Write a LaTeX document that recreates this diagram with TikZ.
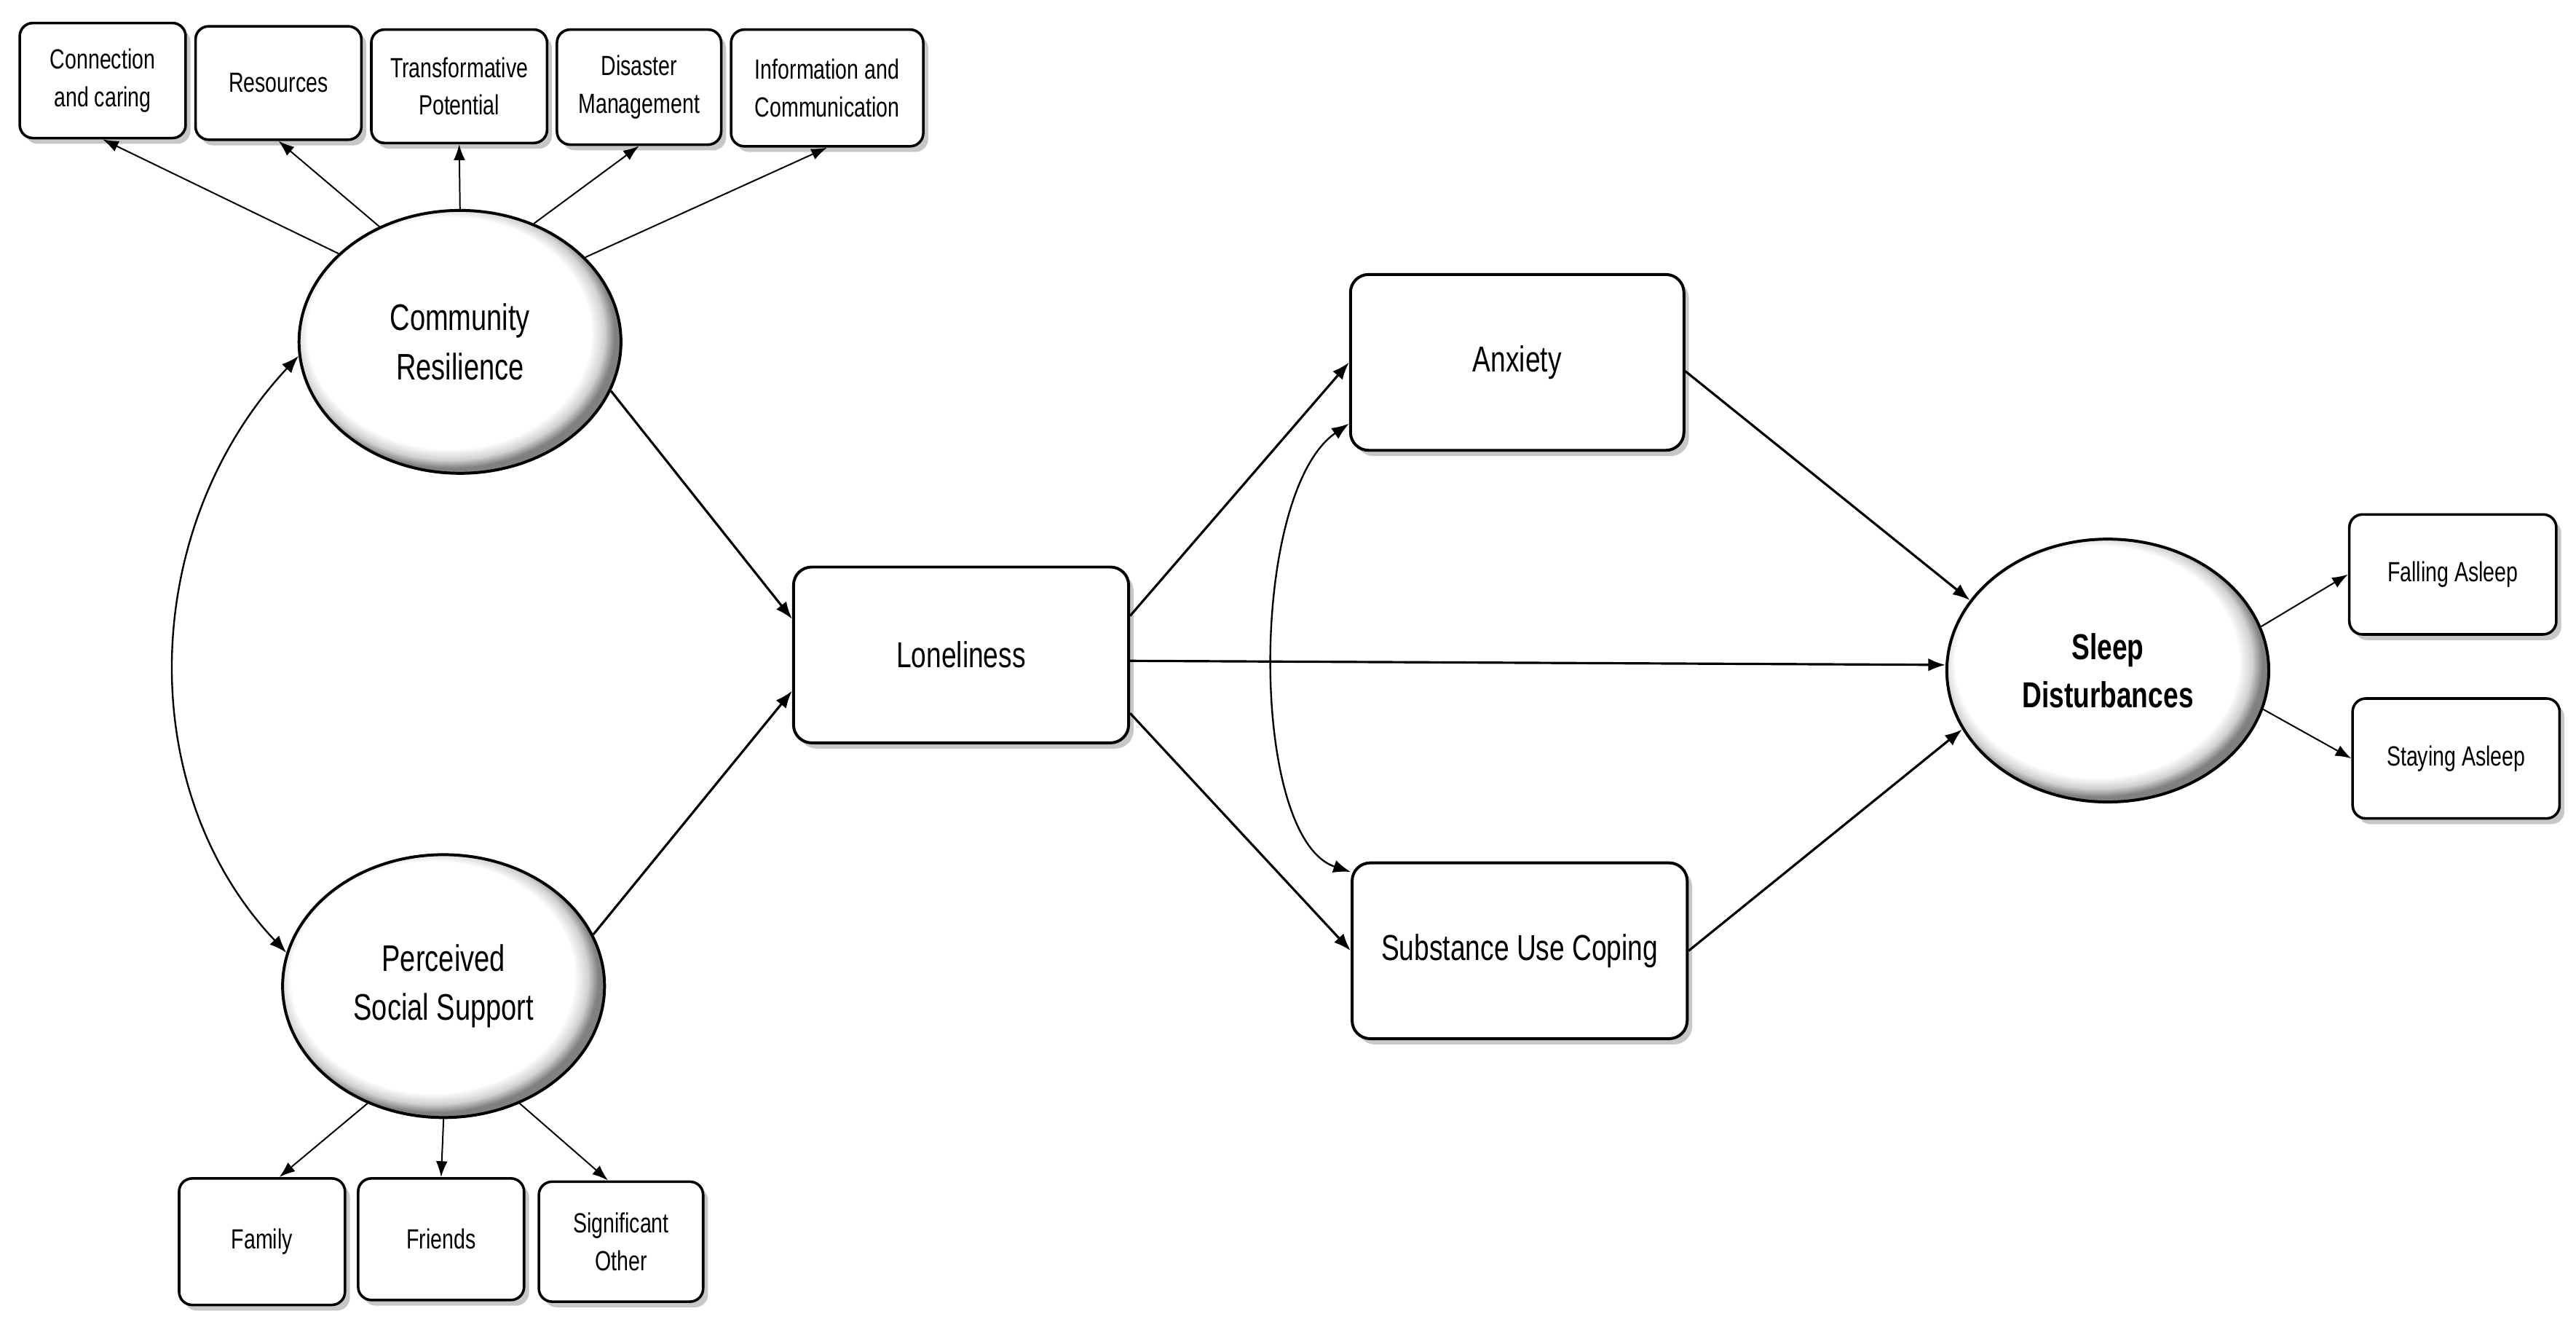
\documentclass[tikz,border=0pt]{standalone}
\usepackage{fontspec}
\setmainfont{Liberation Sans}[FakeStretch=0.75]
\usetikzlibrary{arrows.meta,shapes.geometric,shadows}
\pgfdeclareradialshading{rimshade}{\pgfpoint{-3bp}{3bp}}{color(0bp)=(white); color(22bp)=(white); color(24bp)=(black!18); color(25.5bp)=(black!50); color(50bp)=(black!50)}
\begin{document}
\begin{tikzpicture}[x=0.02cm,y=-0.02cm,
  boxshadow/.style={drop shadow={shadow xshift=0.06cm, shadow yshift=-0.07cm, fill=black, opacity=0.22}},
  smallbox/.style={draw, line width=0.9pt, rounded corners=0.16cm, fill=white, boxshadow, align=center, inner sep=1pt,
    font=\fontsize{9.6}{13}\selectfont},
  mainbox/.style={draw, line width=1pt, rounded corners=0.22cm, fill=white, boxshadow, align=center,
    minimum width=4.08cm, minimum height=2.14cm, font=\fontsize{12.5}{16}\selectfont},
  latent/.style={ellipse, draw, line width=1pt, shade, shading=rimshade, inner sep=0pt, align=center,
    minimum width=3.92cm, minimum height=3.2cm, font=\fontsize{12.8}{17}\selectfont},
  arr/.style={-{Latex[length=6pt,width=4.5pt]}, line width=0.8pt},
  thinarr/.style={-{Latex[length=5.5pt,width=4pt]}, line width=0.5pt},
  dblarr/.style={{Latex[length=6pt,width=4.5pt]}-{Latex[length=6pt,width=4.5pt]}, line width=0.6pt}
]
\useasboundingbox (0,0) rectangle (1568,809);

% top indicator boxes
\node[smallbox, minimum width=2.02cm, minimum height=1.40cm] (c1) at (62.5,49) {Connection\\and caring};
\node[smallbox, minimum width=2.02cm, minimum height=1.38cm] (c2) at (169.5,50.5) {Resources};
\node[smallbox, minimum width=2.14cm, minimum height=1.38cm] (c3) at (279.5,52.5) {Transformative\\Potential};
\node[smallbox, minimum width=2.00cm, minimum height=1.40cm] (c4) at (389,53) {Disaster\\Management};
\node[smallbox, minimum width=2.34cm, minimum height=1.42cm] (c5) at (503.5,53.5) {Information and\\Communication};

% latent variables
\node[latent] (CR) at (280,208) {Community\\Resilience};
\node[latent] (PSS) at (270,600) {Perceived\\Social Support};
\node[latent, font=\fontsize{12.5}{16.5}\selectfont\bfseries] (SD) at (1283,408) {Sleep\\Disturbances};

% main boxes
\node[mainbox] (L) at (585,398.5) {Loneliness};
\node[mainbox, minimum width=4.06cm] (A) at (923.5,220.5) {Anxiety};
\node[mainbox] (S) at (925,578.5) {Substance Use Coping};

% sleep indicators
\node[smallbox, minimum width=2.52cm, minimum height=1.46cm] (fa) at (1493,349.5) {Falling Asleep};
\node[smallbox, minimum width=2.52cm, minimum height=1.46cm] (sa) at (1495,461.5) {Staying Asleep};

% social support indicators
\node[smallbox, minimum width=2.02cm, minimum height=1.54cm] (f1) at (159.5,755.5) {Family};
\node[smallbox, minimum width=2.02cm, minimum height=1.48cm] (f2) at (268.5,754) {Friends};
\node[smallbox, minimum width=2.00cm, minimum height=1.46cm] (f3) at (378,755.5) {Significant\\Other};

% CR indicators
\draw[thinarr] (CR.144) -- (c1.south);
\draw[thinarr] (CR.125) -- (c2.south);
\draw[thinarr] (CR.north) -- (c3.south);
\draw[thinarr] (CR.58) -- (c4.south);
\draw[thinarr] (CR.34) -- (c5.south);

% PSS indicators
\draw[thinarr] (PSS.237) -- (f1.75);
\draw[thinarr] (PSS.south) -- (f2.north);
\draw[thinarr] (PSS.-57) -- (f3.102);

% structural paths
\draw[arr] (CR.-18) -- (L.168);
\draw[arr] (PSS.19) -- (L.192);
\draw[arr] (L.13) -- (A.west);
\draw[arr] (L.-2) -- (SD.178);
\draw[arr] (L.-19) -- (S.west);
\draw[arr] (A.-3) -- (SD.153);
\draw[arr] (S.east) -- (SD.202);
\draw[thinarr] (SD.16) -- (fa.west);
\draw[thinarr] (SD.-14) -- (sa.west);

% covariances
\draw[dblarr] (CR.185) .. controls (85,320) and (80,480) .. (PSS.168);
\draw[dblarr] (A.200) .. controls (760,300) and (760,510) .. (S.155);
\end{tikzpicture}
\end{document}
